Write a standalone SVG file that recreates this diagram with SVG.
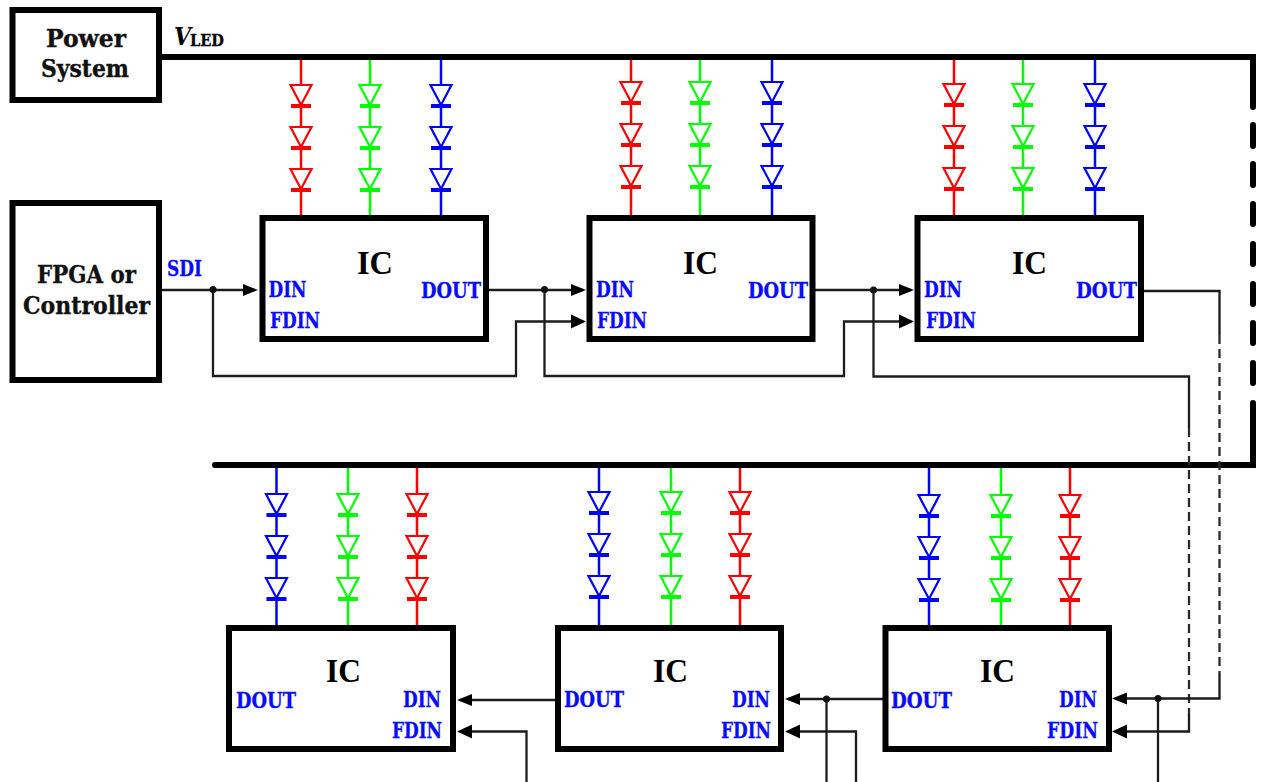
<svg xmlns="http://www.w3.org/2000/svg" xmlns:xlink="http://www.w3.org/1999/xlink" width="1262" height="782" viewBox="0 0 1262 782">
<style>
text{font-family:"DejaVu Serif Condensed","DejaVu Serif","Liberation Serif",serif;font-weight:700;fill:#000}
.box{fill:#fff;stroke:#000;stroke-width:6}
.t{font-size:25px;fill:#111;stroke:#111;stroke-width:.35}
.ic{font-family:"Liberation Serif",serif;font-size:34px}
.p{font-size:22px;fill:#0a0aff;stroke:#0a0aff;stroke-width:.3}
.w{fill:none;stroke:#1c1c1c;stroke-width:2.300}
.da{stroke-dasharray:9 5;stroke:#2a2a2a}
.bus{fill:none;stroke:#000;stroke-width:6;stroke-linecap:round}
.dot{fill:#111}
.r{color:#ff0000}.g{color:#00ff00}.b{color:#0000ff}
.led{fill:#fff;stroke:currentColor;stroke-width:2.200}
.bar{stroke:currentColor;stroke-width:4}
</style>
<defs>
<marker id="a" markerUnits="userSpaceOnUse" markerWidth="16" markerHeight="14" refX="12" refY="6.5" orient="auto"><path d="M0 .5L15 6.500L0 12.500Z" fill="#000"/></marker>
<marker id="af" markerUnits="userSpaceOnUse" markerWidth="16" markerHeight="16" refX="12" refY="7.5" orient="auto"><path d="M0 .5L15 7.500L0 14.500Z" fill="#000"/></marker>
<g id="d"><path class="led" d="M-10.500 0H10.500L0 20Z"/><path class="bar" d="M-10 21H10"/></g>
<g id="s"><use xlink:href="#d" href="#d" y="0"/><use xlink:href="#d" href="#d" y="42"/><use xlink:href="#d" href="#d" y="84"/></g>
</defs>
<rect width="1262" height="782" fill="#fff"/>

<g id="connectors">
<path class="bus" d="M160 57H1253V107"/>
<path class="bus" d="M1253 125V146M1253 164V185M1253 204V224M1253 244V264M1253 284V304M1253 323V343M1253 363V383M1253 403V465H215"/>
<path class="w" d="M162 290H255" marker-end="url(#a)"/>
<path class="w" d="M213 290V376H516V321.500H583" marker-end="url(#af)"/>
<path class="w" d="M489 290H583" marker-end="url(#a)"/>
<path class="w" d="M544.500 290V376H844V321.500H911" marker-end="url(#af)"/>
<path class="w" d="M815 290H911" marker-end="url(#a)"/>
<path class="w" d="M873.500 290V376.500H1189V428"/>
<path class="w da" d="M1189 428V713"/>
<path class="w" d="M1189 713V731.500H1115" marker-end="url(#af)"/>
<path class="w" d="M1144 291H1219.500V335"/>
<path class="w da" d="M1219.500 335V673"/>
<path class="w" d="M1219.500 673V698.500H1115" marker-end="url(#a)"/>
<path class="w" d="M1158 698.500V782"/>
<path class="w" d="M883 699H788" marker-end="url(#a)"/>
<path class="w" d="M826.500 699V782"/>
<path class="w" d="M856 782V731.500H788" marker-end="url(#af)"/>
<path class="w" d="M555 700H460" marker-end="url(#a)"/>
<path class="w" d="M526.500 782V731.500H460" marker-end="url(#af)"/>
<circle class="dot" cx="213" cy="289.500" r="3.500"/>
<circle class="dot" cx="544.500" cy="289.500" r="3.500"/>
<circle class="dot" cx="873.500" cy="290" r="3.500"/>
<circle class="dot" cx="1158" cy="698.500" r="3.500"/>
<circle class="dot" cx="826.500" cy="699" r="3.500"/>
<g fill="none" stroke-width="2.500" stroke="currentColor">
<path class="r" d="M301 60V215M631 60V215M954 60V215M417 468V625M740 468V625M1070 468V625"/>
<path class="g" d="M370 60V215M700 60V215M1023 60V215M348 468V625M671 468V625M1001 468V625"/>
<path class="b" d="M441 60V215M772 60V215M1095 60V215M276.500 468V625M599 468V625M929 468V625"/>
</g>
</g>

<g id="leds">
<g class="r"><use xlink:href="#s" href="#s" x="301" y="85"/><use xlink:href="#s" href="#s" x="631" y="82"/><use xlink:href="#s" href="#s" x="954" y="84"/><use xlink:href="#s" href="#s" x="417" y="494"/><use xlink:href="#s" href="#s" x="740" y="492"/><use xlink:href="#s" href="#s" x="1070" y="495"/></g>
<g class="g"><use xlink:href="#s" href="#s" x="370" y="85"/><use xlink:href="#s" href="#s" x="700" y="82"/><use xlink:href="#s" href="#s" x="1023" y="84"/><use xlink:href="#s" href="#s" x="348" y="494"/><use xlink:href="#s" href="#s" x="671" y="492"/><use xlink:href="#s" href="#s" x="1001" y="495"/></g>
<g class="b"><use xlink:href="#s" href="#s" x="441" y="85"/><use xlink:href="#s" href="#s" x="772" y="82"/><use xlink:href="#s" href="#s" x="1095" y="84"/><use xlink:href="#s" href="#s" x="276.500" y="494"/><use xlink:href="#s" href="#s" x="599" y="492"/><use xlink:href="#s" href="#s" x="929" y="495"/></g>
</g>

<g id="power"><rect class="box" x="12.500" y="10" width="146.500" height="90"/>
<text class="t" x="46" y="47" textLength="80" lengthAdjust="spacingAndGlyphs">Power</text>
<text class="t" x="41" y="77" textLength="88" lengthAdjust="spacingAndGlyphs">System</text></g>
<g id="vled"><text x="174" y="45" font-size="25" font-style="italic" fill="#111" textLength="17" lengthAdjust="spacingAndGlyphs">V</text><text x="190" y="46" font-size="17" fill="#111" stroke="#111" stroke-width=".3" textLength="34" lengthAdjust="spacingAndGlyphs">LED</text></g>
<g id="fpga"><rect class="box" x="12.500" y="203" width="146.500" height="177"/>
<text class="t" x="37" y="283" textLength="99" lengthAdjust="spacingAndGlyphs">FPGA or</text>
<text class="t" x="23" y="314" textLength="127" lengthAdjust="spacingAndGlyphs">Controller</text></g>
<text id="sdi" class="p" x="167" y="276" textLength="35" lengthAdjust="spacingAndGlyphs">SDI</text>

<g id="ic1"><rect class="box" x="262.500" y="218" width="223.500" height="121"/>
<text class="ic" x="357" y="274" textLength="36" lengthAdjust="spacingAndGlyphs">IC</text>
<text class="p" x="268.500" y="297" textLength="38" lengthAdjust="spacingAndGlyphs">DIN</text>
<text class="p" x="270" y="328" textLength="50" lengthAdjust="spacingAndGlyphs">FDIN</text>
<text class="p" x="421" y="298" textLength="60" lengthAdjust="spacingAndGlyphs">DOUT</text></g>
<g id="ic2"><rect class="box" x="589.500" y="218" width="223" height="121"/>
<text class="ic" x="683" y="274" textLength="35" lengthAdjust="spacingAndGlyphs">IC</text>
<text class="p" x="596" y="297" textLength="38" lengthAdjust="spacingAndGlyphs">DIN</text>
<text class="p" x="597" y="328" textLength="50" lengthAdjust="spacingAndGlyphs">FDIN</text>
<text class="p" x="748" y="298" textLength="60" lengthAdjust="spacingAndGlyphs">DOUT</text></g>
<g id="ic3"><rect class="box" x="917.500" y="218" width="223.500" height="121"/>
<text class="ic" x="1012" y="274" textLength="35" lengthAdjust="spacingAndGlyphs">IC</text>
<text class="p" x="924" y="297" textLength="38" lengthAdjust="spacingAndGlyphs">DIN</text>
<text class="p" x="926" y="328" textLength="50" lengthAdjust="spacingAndGlyphs">FDIN</text>
<text class="p" x="1076" y="298" textLength="61" lengthAdjust="spacingAndGlyphs">DOUT</text></g>
<g id="ic4"><rect class="box" x="229" y="628" width="224" height="121"/>
<text class="ic" x="326" y="682" textLength="35" lengthAdjust="spacingAndGlyphs">IC</text>
<text class="p" x="236" y="707.500" textLength="60" lengthAdjust="spacingAndGlyphs">DOUT</text>
<text class="p" x="403" y="707" textLength="38" lengthAdjust="spacingAndGlyphs">DIN</text>
<text class="p" x="392" y="737.500" textLength="50" lengthAdjust="spacingAndGlyphs">FDIN</text></g>
<g id="ic5"><rect class="box" x="558" y="628" width="223" height="121"/>
<text class="ic" x="653" y="682" textLength="35" lengthAdjust="spacingAndGlyphs">IC</text>
<text class="p" x="564" y="707" textLength="60" lengthAdjust="spacingAndGlyphs">DOUT</text>
<text class="p" x="732" y="707" textLength="38" lengthAdjust="spacingAndGlyphs">DIN</text>
<text class="p" x="721" y="737.500" textLength="50" lengthAdjust="spacingAndGlyphs">FDIN</text></g>
<g id="ic6"><rect class="box" x="885.500" y="628" width="223.500" height="121"/>
<text class="ic" x="980" y="682" textLength="35" lengthAdjust="spacingAndGlyphs">IC</text>
<text class="p" x="891" y="707.500" textLength="61" lengthAdjust="spacingAndGlyphs">DOUT</text>
<text class="p" x="1059" y="707" textLength="38" lengthAdjust="spacingAndGlyphs">DIN</text>
<text class="p" x="1047" y="737.500" textLength="51" lengthAdjust="spacingAndGlyphs">FDIN</text></g>
</svg>
